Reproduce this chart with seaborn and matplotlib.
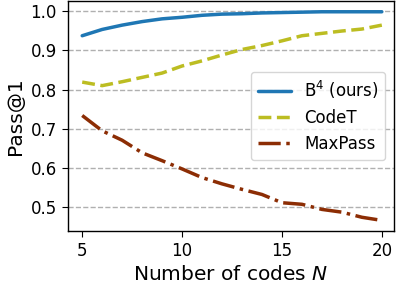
import matplotlib
matplotlib.use("Agg")
import matplotlib.pyplot as plt
import numpy as np
import pandas as pd
import seaborn as sns

# values
n_codes = list(range(5, 21))
b4 = [0.937, 0.953, 0.964, 0.973, 0.980, 0.984, 0.989, 0.992, 0.993, 0.995,
      0.996, 0.997, 0.998, 0.998, 0.998, 0.998]
codet = [0.819, 0.810, 0.820, 0.831, 0.842, 0.860, 0.873, 0.888, 0.902, 0.912,
         0.924, 0.937, 0.943, 0.949, 0.954, 0.964]
maxpass = [0.734, 0.695, 0.671, 0.639, 0.619, 0.598, 0.576, 0.560, 0.546, 0.533,
           0.512, 0.508, 0.495, 0.488, 0.475, 0.467]

series = {
    "B$^4$ (ours)": b4,
    "CodeT": codet,
    "MaxPass": maxpass,
}
colors = {
    "B$^4$ (ours)": "#1f77b4",
    "CodeT": "#bcbd22",
    "MaxPass": "#8c2d04",
}
line_styles = {
    "B$^4$ (ours)": "-",
    "CodeT": "--",
    "MaxPass": "-.",
}

sns.set_style("ticks")
plt.rcParams["font.family"] = ["DejaVu Sans"]
plt.rcParams.update({
    "text.color": "black",
    "axes.labelcolor": "black",
    "xtick.color": "black",
    "ytick.color": "black",
    "xtick.major.size": 4.5,
    "ytick.major.size": 4.5,
})

fig, ax = plt.subplots(figsize=(3.99, 2.89), dpi=100)
fig.subplots_adjust(left=0.170, right=0.987, top=0.996, bottom=0.202)

for name, vals in series.items():
    df = pd.DataFrame({"N": n_codes, "pass": vals})
    sns.lineplot(
        data=df, x="N", y="pass",
        color=colors[name],
        linestyle=line_styles[name],
        linewidth=2.5,
        label=name,
        ax=ax,
    )

ax.yaxis.grid(True, linestyle="--", color="#b0b0b0", linewidth=1)
ax.set_axisbelow(True)
for s in ax.spines.values():
    s.set_color("black")
    s.set_linewidth(1)

ax.set_xticks([5, 10, 15, 20])
ax.set_yticks([0.5, 0.6, 0.7, 0.8, 0.9, 1.0])
ax.set_xlim(4.28, 20.6)
ax.set_ylim(0.441, 1.025)
ax.tick_params(labelsize=12)

ax.set_xlabel("Number of codes $N$", fontsize=14.5)
ax.set_ylabel("Pass@1", fontsize=14.5)

ax.legend(loc="center right", fontsize=12, frameon=True)

plt.savefig("out.png", dpi=100)
